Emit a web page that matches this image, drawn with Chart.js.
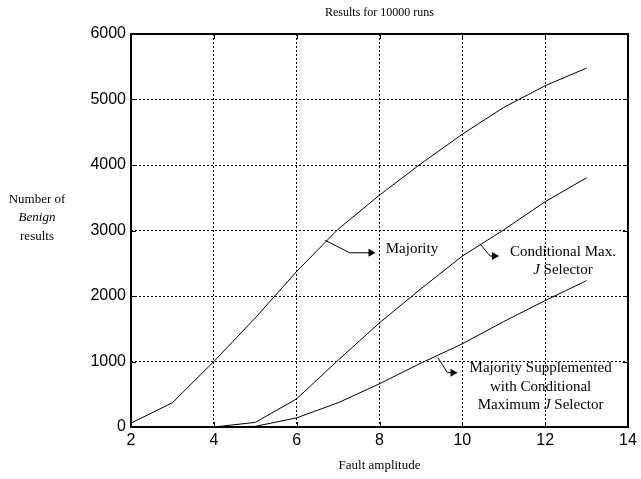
<!DOCTYPE html>
<html>
<head>
<meta charset="utf-8">
<script src="https://cdn.jsdelivr.net/npm/chart.js@4.4.1/dist/chart.umd.min.js"></script>
<style>
  html, body { margin: 0; padding: 0; background: #fff; }
  #wrap { width: 641px; height: 479px; position: relative; }
</style>
</head>
<body>
<div id="wrap"><canvas id="faultChart" width="641" height="479"></canvas></div>
<script>
// fault amplitudes and benign counts per selector
const amplitudes = [2, 3, 4, 5, 6, 7, 8, 9, 10, 11, 12, 13];
const majority = [60, 370, 1000, 1665, 2375, 3020, 3540, 4020, 4470, 4880, 5210, 5480];
const condAmplitudes = [4, 5, 6, 7, 8, 9, 10, 11, 12, 13];
const conditionalMax = [0, 70, 430, 1020, 1590, 2110, 2610, 3010, 3440, 3805];
const supplemented = [0, 10, 140, 370, 660, 975, 1270, 1610, 1930, 2235];
const xTicks = [2, 4, 6, 8, 10, 12, 14];
const yTicks = [0, 1000, 2000, 3000, 4000, 5000, 6000];

const toPoints = (xs, ys) => xs.map((x, i) => ({ x: x, y: ys[i] }));

const serif = '"Liberation Serif", "Times New Roman", serif';
const sans = '"Liberation Sans", Arial, sans-serif';

// callout labels: text lines (centre x, y) and arrow path in data units
const callouts = [
  { lines: [['Majority', 8.15, 2720, 'left']],
    path: [[6.69, 2850], [7.28, 2660], [7.88, 2660]] },
  { lines: [['Conditional Max.', 12.43, 2670, 'center'], ['J|Selector', 12.43, 2390, 'center']],
    path: [[10.42, 2800], [10.67, 2610], [10.86, 2610]] },
  { lines: [['Majority Supplemented', 11.89, 905, 'center'], ['with Conditional', 11.89, 610, 'center'], ['Maximum J|Selector', 11.89, 330, 'center']],
    path: [[9.41, 1060], [9.64, 830], [9.86, 830]] }
];

function drawLine(ctx, text, px, py, align) {
  // a "J|" prefix marks an italic J
  const parts = text.split('|');
  ctx.textBaseline = 'middle';
  if (parts.length === 1) {
    ctx.font = '15px ' + serif;
    ctx.textAlign = align;
    ctx.fillText(text, px, py);
    return;
  }
  const head = parts[0];
  const tail = ' ' + parts[1];
  const base = head.slice(0, -1);
  ctx.font = '15px ' + serif;
  const wBase = ctx.measureText(base).width;
  const wTail = ctx.measureText(tail).width;
  ctx.font = 'italic 15px ' + serif;
  const wJ = ctx.measureText('J').width;
  const total = wBase + wJ + wTail;
  let x0 = align === 'center' ? px - total / 2 : px;
  ctx.textAlign = 'left';
  ctx.font = '15px ' + serif;
  ctx.fillText(base, x0, py);
  ctx.font = 'italic 15px ' + serif;
  ctx.fillText('J', x0 + wBase, py);
  ctx.font = '15px ' + serif;
  ctx.fillText(tail, x0 + wBase + wJ, py);
}

const decorations = {
  id: 'decorations',
  afterDraw(chart) {
    const { ctx, chartArea: a, scales: { x, y } } = chart;
    ctx.save();
    ctx.fillStyle = '#000';
    ctx.strokeStyle = '#000';

    // inward ticks on all four sides
    ctx.lineWidth = 1;
    ctx.beginPath();
    xTicks.forEach(v => {
      const px = Math.round(x.getPixelForValue(v)) + 0.5;
      ctx.moveTo(px, a.bottom); ctx.lineTo(px, a.bottom - 5);
      ctx.moveTo(px, a.top); ctx.lineTo(px, a.top + 5);
    });
    yTicks.forEach(v => {
      const py = Math.round(y.getPixelForValue(v)) + 0.5;
      ctx.moveTo(a.left, py); ctx.lineTo(a.left + 5, py);
      ctx.moveTo(a.right, py); ctx.lineTo(a.right - 5, py);
    });
    ctx.stroke();

    // frame
    ctx.lineWidth = 2;
    ctx.strokeRect(a.left, a.top, a.right - a.left, a.bottom - a.top);

    // titles
    ctx.textAlign = 'center';
    ctx.textBaseline = 'middle';
    ctx.font = '12px ' + serif;
    ctx.fillText('Results for 10000 runs', (a.left + a.right) / 2, 13);
    ctx.font = '13px ' + serif;
    ctx.fillText('Fault amplitude', (a.left + a.right) / 2, 466);
    ctx.fillText('Number of', 37, 200);
    ctx.font = 'italic 13px ' + serif;
    ctx.fillText('Benign', 37, 218);
    ctx.font = '13px ' + serif;
    ctx.fillText('results', 37, 237);

    // callouts with arrows
    callouts.forEach(c => {
      c.lines.forEach(([t, vx, vy, al]) => {
        drawLine(ctx, t, x.getPixelForValue(vx), y.getPixelForValue(vy), al);
      });
      const pts = c.path.map(([vx, vy]) => [x.getPixelForValue(vx), y.getPixelForValue(vy)]);
      ctx.lineWidth = 1;
      ctx.beginPath();
      ctx.moveTo(pts[0][0], pts[0][1]);
      pts.slice(1).forEach(p => ctx.lineTo(p[0], p[1]));
      ctx.stroke();
      const tip = pts[pts.length - 1];
      ctx.beginPath();
      ctx.moveTo(tip[0] + 1, tip[1]);
      ctx.lineTo(tip[0] - 6, tip[1] - 4);
      ctx.lineTo(tip[0] - 6, tip[1] + 4);
      ctx.closePath();
      ctx.fill();
    });
    ctx.restore();
  }
};

const lineStyle = {
  borderColor: '#000',
  borderWidth: 1,
  pointRadius: 0,
  tension: 0,
  fill: false
};

new Chart(document.getElementById('faultChart').getContext('2d'), {
  type: 'line',
  data: {
    datasets: [
      Object.assign({ label: 'Majority', data: toPoints(amplitudes, majority) }, lineStyle),
      Object.assign({ label: 'Conditional Max. J Selector', data: toPoints(condAmplitudes, conditionalMax) }, lineStyle),
      Object.assign({ label: 'Majority Supplemented with Conditional Maximum J Selector', data: toPoints(condAmplitudes, supplemented) }, lineStyle)
    ]
  },
  options: {
    responsive: false,
    animation: false,
    layout: { padding: { top: 34, right: 13, left: 0, bottom: 0 } },
    plugins: { legend: { display: false }, tooltip: { enabled: false } },
    scales: {
      x: {
        type: 'linear',
        min: 2,
        max: 14,
        afterBuildTicks: s => { s.ticks = xTicks.map(v => ({ value: v })); },
        afterFit: s => { s.height = 52; },
        grid: { color: '#000', lineWidth: 1, drawTicks: false },
        border: { display: false, dash: [2, 2] },
        ticks: { color: '#000', padding: 4, font: { family: sans, size: 16 }, callback: v => String(v) }
      },
      y: {
        min: 0,
        max: 6000,
        afterBuildTicks: s => { s.ticks = yTicks.map(v => ({ value: v })); },
        afterFit: s => { s.width = 131; },
        grid: { color: '#000', lineWidth: 1, drawTicks: false },
        border: { display: false, dash: [2, 2] },
        ticks: { color: '#000', padding: 5, font: { family: sans, size: 16 }, callback: v => String(v) }
      }
    }
  },
  plugins: [decorations]
});
</script>
</body>
</html>
